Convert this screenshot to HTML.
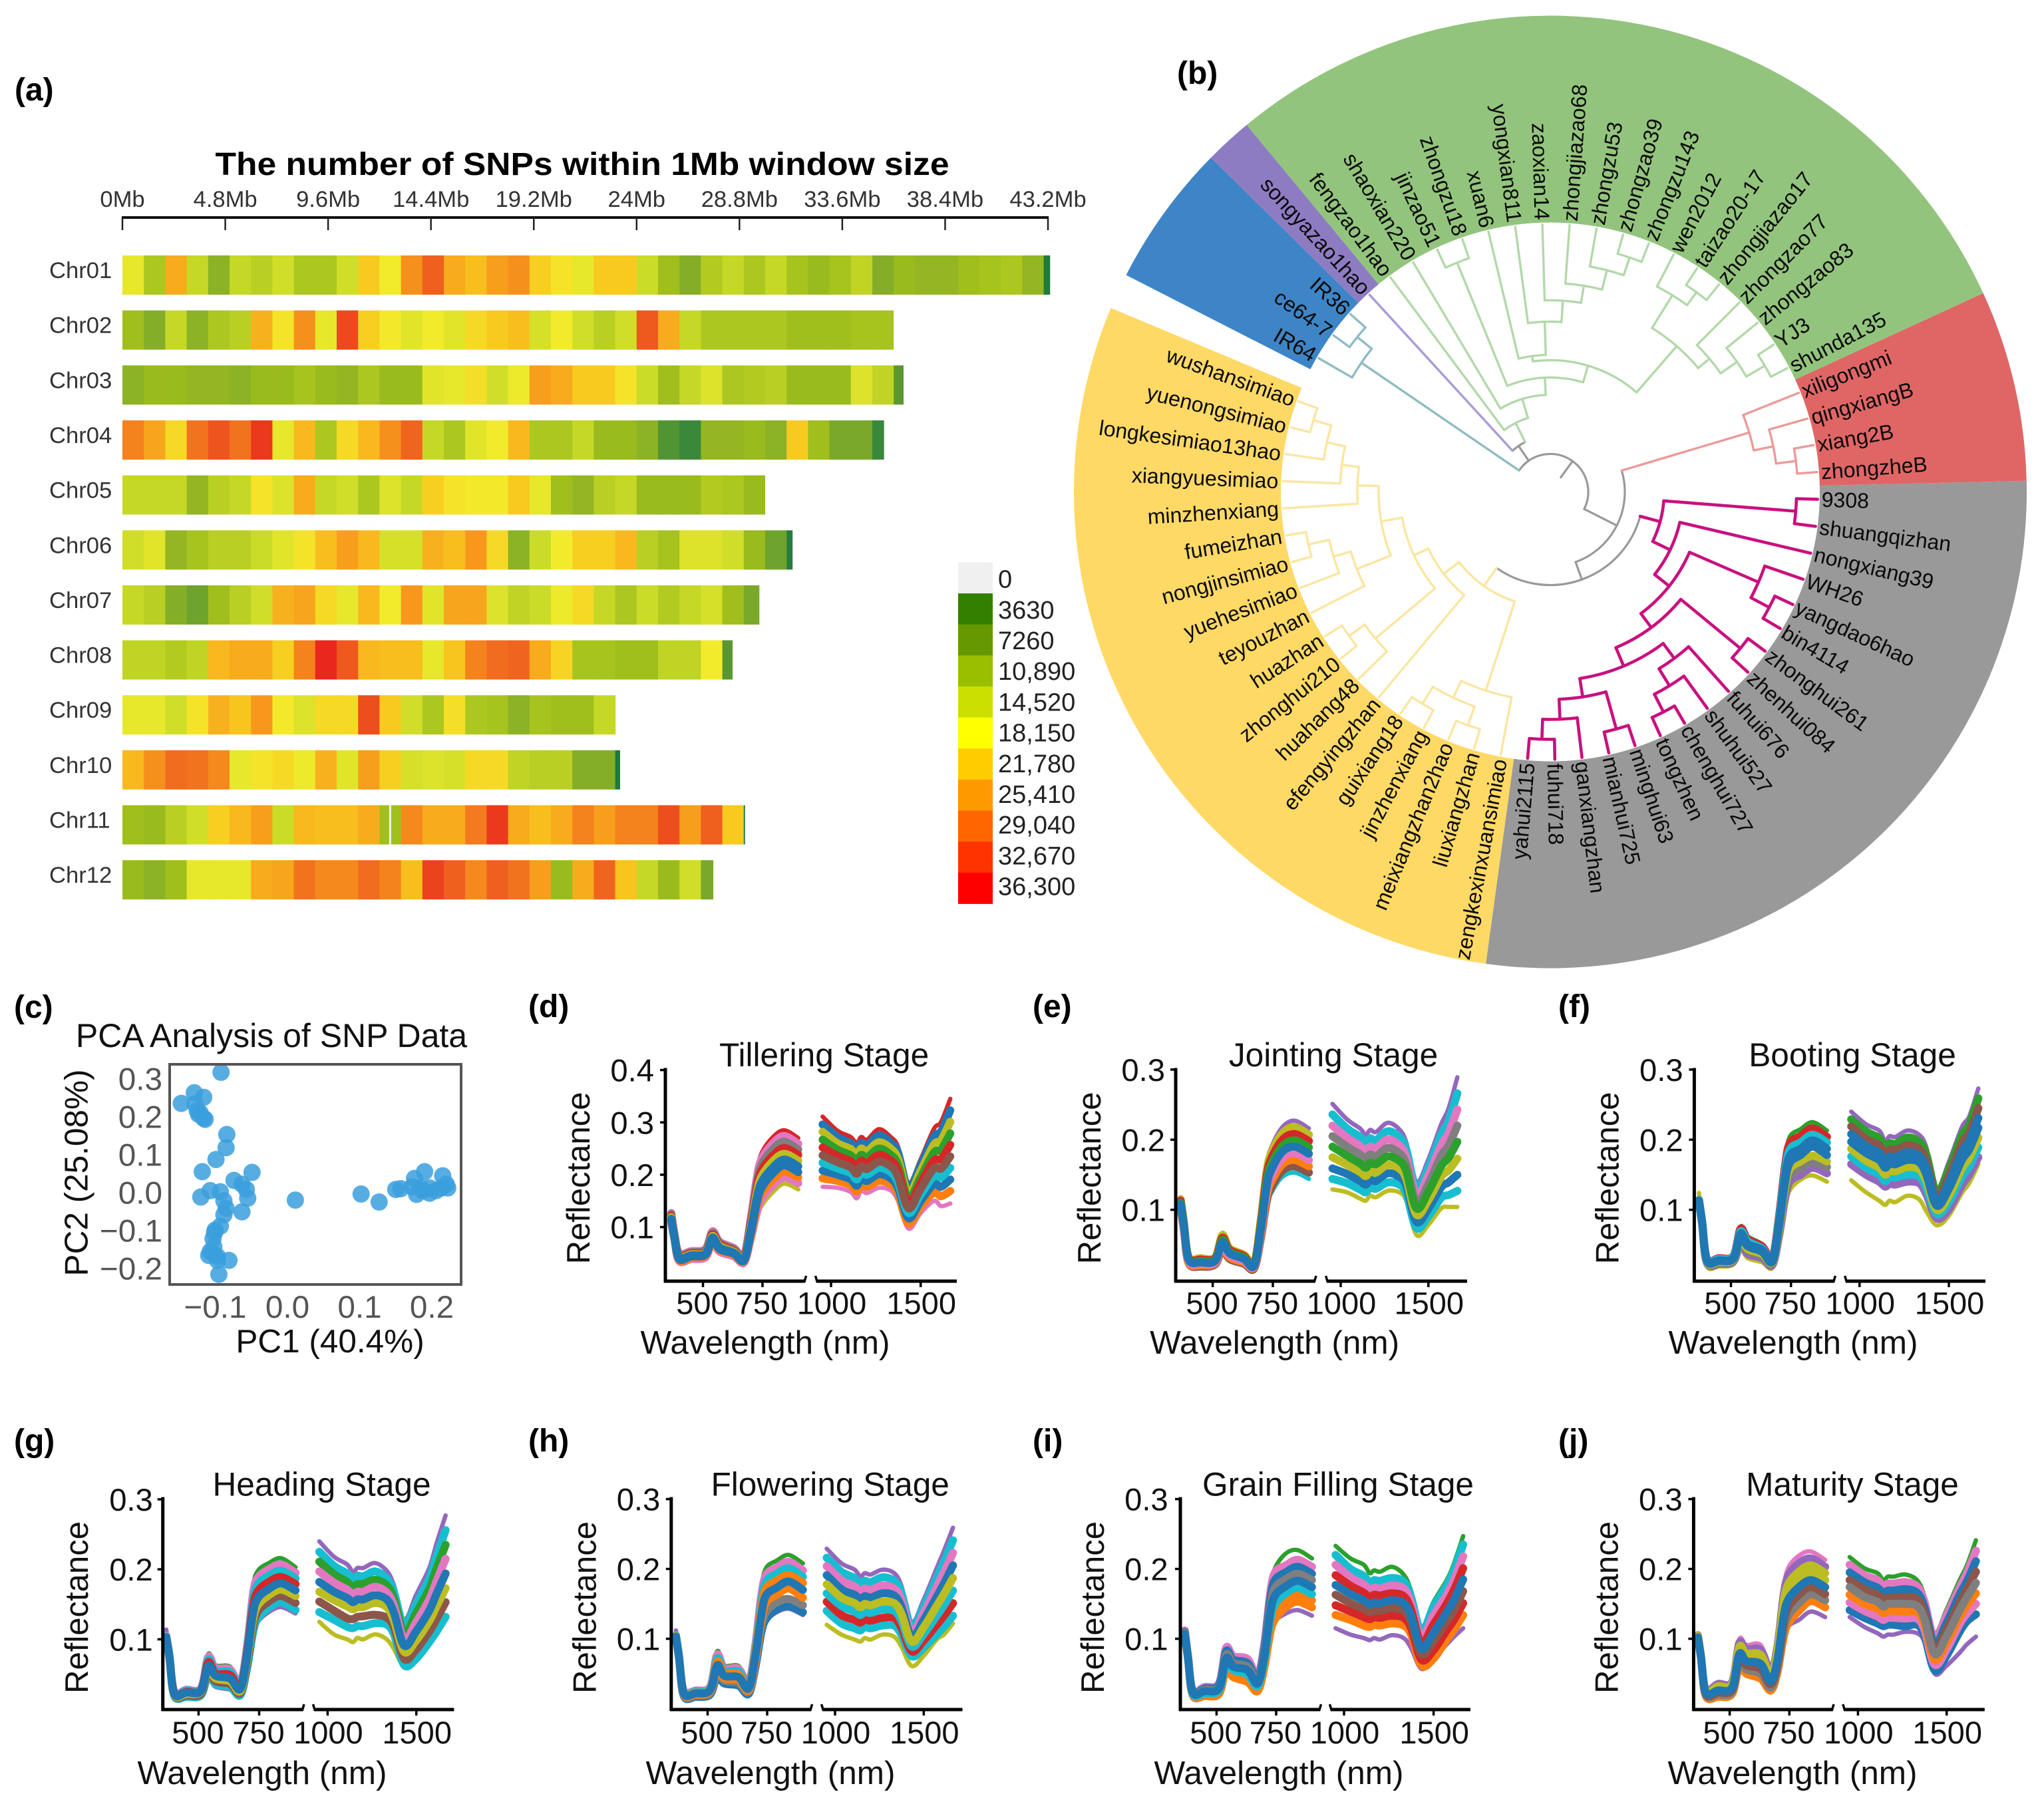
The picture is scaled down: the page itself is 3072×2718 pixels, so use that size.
<!DOCTYPE html>
<html lang="en">
<head>
<meta charset="utf-8">
<title>Rice SNP and reflectance figure</title>
<style>
html,body{margin:0;padding:0;background:#fff;}
svg{display:block;font-family:"Liberation Sans",Arial,sans-serif;}
</style>
</head>
<body>
<svg id="figure" xmlns="http://www.w3.org/2000/svg" width="3072" height="2718" viewBox="0 0 3072 2718">
<rect width="3072" height="2718" fill="#fff"/>
<g id="panel-a"></g>
<g id="panel-b"></g>
<g id="panel-c"></g>
<g id="spectra"></g>
<g id="letters"></g>
</svg>
<script>
/* ---------- panel (a) data ---------- */
const chrNames=['Chr01','Chr02','Chr03','Chr04','Chr05','Chr06','Chr07','Chr08','Chr09','Chr10','Chr11','Chr12'];
const chrLengthsMb=[43.3,36,36.46,35.55,30,31.28,29.73,28.48,23.03,23.23,29.06,27.58];
const chr01Snps=[17,12,24,14,9.5,14,13,15,12,12,15,21.5,18,26,29.5,24,22.5,25,26,21,19,17,21.5,21.5,14.5,11,9,12.5,14,12,14,11.5,10.5,11.5,13.5,9,10.5,10,10,11,11.5,12,10,3];
const chr02Snps=[11,9,14,9.5,12,13,23.5,19,26,17,31.5,21,18.5,16.5,18,16.5,20,21.5,22.5,15.5,18,15,13,15,30,24,14,12,12,12,12,11,11,11,11.5,11.5];
const chr03Snps=[9.5,10.5,10.5,10,10,9.5,10.5,10.5,11.5,10.5,10,12,10.5,10.5,16.5,17,19.5,15,17.5,25,24,21.5,21.5,19,14.5,11,14,16,12,12.5,13,10.5,10.5,10.5,16,13.5,7];
const chr04Snps=[27,24.5,20,28,30.5,28,33,17,23,12,20,23,26,29,14,12,16.5,18,23,12,12,14,10.5,10.5,9.5,6.5,5,10,10,10.5,9.5,21.5,11,8.5,8.5,5];
const chr05Snps=[14,14,14,10,13,14,19,16,24,14,15,12,16,14,21,19,18.5,18.5,21.5,17,11,10,13,14,10.5,10.5,10.5,12.5,12,10.5];
const chr06Snps=[15,16.5,10,11.5,13,13,14.5,16.5,19,22.5,25,23,15.5,15.5,23.5,22.5,25.5,20,9.5,14.5,18,21,21,23,13,11.5,16,16,15,10.5,8,3.5];
const chr07Snps=[14,13,9,8,11,13,15,23.5,24.5,20,17,23,18,25.5,16.5,24.5,24.5,16,13.5,14.5,17.5,20,14,12,14.5,12.5,14,15.5,11,8.5];
const chr08Snps=[13.5,13.5,12.5,13.5,23,24,24,21,27,35,30,23,22.5,22.5,17,22,27,28.5,29,24,20.5,11.5,11.5,11,11,13.5,13.5,18,7];
const chr09Snps=[17,17,15,19,23.5,22,25.5,18.5,16,20,20,31,21.5,15,12,19.5,12,11.5,9.5,11.5,11,11,14];
const chr10Snps=[23,26,28.5,28,26.5,17,19,20,17.5,23.5,16.5,25,21,15.5,16,15.5,20,20,13.5,13,13,9,9,3];
const chr11Snps=[11,10.5,13,15,21,23,25,14.5,23,22.5,22.5,24,11,26.5,24,24,27.5,33,24,22.5,24,27,25,27,27,31,25,29.5,21.5,3];
const chr12Snps=[10.5,9.5,11,17,17,17,24,24.5,28,26.5,26.5,28.5,27,22.5,32,29.5,26.5,29.5,28,25,10.5,24,29,22,14,10.5,15,8.5];
const chrSnpRows=[chr01Snps,chr02Snps,chr03Snps,chr04Snps,chr05Snps,chr06Snps,chr07Snps,chr08Snps,chr09Snps,chr10Snps,chr11Snps,chr12Snps];
const axisTicksMb=[0,4.8,9.6,14.4,19.2,24,28.8,33.6,38.4,43.2];
const axisTickLabels=['0Mb','4.8Mb','9.6Mb','14.4Mb','19.2Mb','24Mb','28.8Mb','33.6Mb','38.4Mb','43.2Mb'];
const legendLabels=['0','3630','7260','10,890','14,520','18,150','21,780','25,410','29,040','32,670','36,300'];
const legendColors=['#f0f0f0','#338000','#669900','#99bf00','#cce000','#ffff00','#ffcc00','#ff9900','#ff6600','#ff3300','#ff0000'];
const heatStops=[3,5,7.26,9,10.89,14.52,18.15,21.78,25.41,29.04,32.67,36.3];
const heatStopColors=['#1f7a3c','#3a883a','#5d9a30','#85ae28','#9fbe1c','#cbdc28','#f4ec2c','#f8c71e','#f7991d','#f0641e','#ea3c1c','#e81c1c'];
const gapChromosomes=[10];
const gapStartsMb=[12.45];

/* ---------- panel (b) data ---------- */
const tipOrder=['IR64','ce64-7','IR36','songyazao1hao','fengzao1hao','shaoxian220','jinzao51','zhongzu18','xuan6','yongxian811','zaoxian14','zhongjiazao68','zhongzu53','zhongzao39','zhongzu143','wen2012','taizao20-17','zhongjiazao17','zhongzao77','zhongzao83','YJ3','shunda135','xiligongmi','qingxiangB','xiang2B','zhongzheB','9308','shuangqizhan','nongxiang39','WH26','yangdao6hao','bin4114','zhonghui261','zhenhui084','fuhui676','shuhui527','chenghui727','tongzhen','minghui63','mianhui725','ganxiangzhan','fuhui718','yahui2115','zengkexinxuansimiao','liuxiangzhan','meixiangzhan2hao','jinzhenxiang','guixiang18','efengyingzhan','huahang48','zhonghui210','huazhan','teyouzhan','yuehesimiao','nongjinsimiao','fumeizhan','minzhenxiang','xiangyuesimiao','longkesimiao13hao','yuenongsimiao','wushansimiao'];
const cladeSizes=[3,1,18,4,17,18];
const cladeFills=['#3d85c6','#8e7cc3','#93c47d','#e06666','#999999','#ffd966'];
const cladeBranchColors=['#8fbcc4','#a99bd6','#b3d8aa','#eb9a9a','#c9107f','#fbe6a0'];
const cladeNames=['blue-clade','purple-clade','green-clade','red-clade','grey-clade','yellow-clade'];
const blueClade=[86,[93,'IR36','ce64-7'],'IR64'];
const greenClade=[29,'fengzao1hao',[36.5,'shaoxian220',[43,[93,'jinzao51','zhongzu18'],[49.5,[51.5,'xuan6',[64,'yongxian811',[72,'zaoxian14',[78.5,'zhongjiazao68',[86,'zhongzu53',[93,'zhongzao39','zhongzu143']]]]]],[72.5,[87,'wen2012',[93,'taizao20-17','zhongjiazao17']],[78,'zhongzao77',[85.5,'zhongzao83',[93.5,'YJ3','shunda135']]]]]]]];
const redClade=[78,'xiligongmi',[85.5,'qingxiangB',[93,'xiang2B','zhongzheB']]];
const yellowClade=[43.25,[50.5,[56.5,[64.5,[72.5,[79,[86,'longkesimiao13hao',[93,'wushansimiao','yuenongsimiao']],'xiangyuesimiao'],'minzhenxiang'],[78.25,[85,[93,'fumeizhan','nongjinsimiao'],'yuehesimiao'],'teyouzhan']],[85.75,[93,'huazhan','zhonghui210'],'huahang48']],'efengyingzhan'],[78.5,'zengkexinxuansimiao',[85.5,[93,'guixiang18','jinzhenxiang'],[93,'meixiangzhan2hao','liuxiangzhan']]]];
const magentaClade=[42.75,[92.5,'9308','shuangqizhan'],[50,'nongxiang39',[57,[85.25,'WH26',[93,'yangdao6hao','bin4114']],[63.5,[92.5,'zhonghui261','zhenhui084'],[71,[78,'fuhui676',[85.5,'shuhui527',[93,'chenghui727','tongzhen']]],[78,[92.5,'minghui63','mianhui725'],[85.5,'ganxiangzhan',[93,'fuhui718','yahui2115']]]]]]]];
const treeRoot=[14.25,[14.25,blueClade,[21,'songyazao1hao',greenClade]],[28,redClade,[35,yellowClade,magentaClade]]];

/* ---------- panel (c) data ---------- */
const pc1Values=[-.092,-.129,-.116,-.147,-.128,-.125,-.123,-.116,-.114,-.121,-.084,-.085,-.099,-.118,-.049,-.074,-.063,-.057,-.107,-.120,-.093,-.055,-.088,-.085,-.063,-.088,-.093,-.100,-.103,-.101,-.107,-.102,-.109,-.097,-.081,-.095,-.097,-.102,.011,.102,.127,.150,.157,.176,.190,.215,.173,.179,.187,.197,.206,.213,.222,.220,.185,.197];
const pc2Values=[.317,.263,.251,.235,.233,.216,.206,.196,.193,.210,.153,.118,.087,.055,.053,.032,.022,.008,.005,-.012,.002,-.015,-.022,-.042,-.051,-.059,-.089,-.099,-.122,-.106,-.156,-.163,-.166,-.169,-.179,-.216,-.179,-.143,-.020,-.004,-.025,.008,.010,.037,.055,.044,.015,-.005,.005,-.002,.005,.012,.012,.022,.012,.012];
const pcaYTicks=[.3,.2,.1,0,-.1,-.2];
const pcaXTicks=[-.1,0,.1,.2];

/* ---------- reflectance data (per-mille reflectance, visible then NIR samples) ---------- */
const visWavelengths=[367,380,400,450,510,540,570,630,672,700,725,745,790,840,900];
const nirWavelengths=[953,1036,1110,1143,1168,1201,1267,1333,1374,1432,1498,1573,1614,1665];
const wavelengthTicksLeft=[500,750];
const wavelengthTicksRight=[1000,1500];
const reflectanceTicksTall=[100,200,300,400];
const reflectanceTicks=[100,200,300];
const seriesPalette=['#1f77b4','#ff7f0e','#2ca02c','#d62728','#9467bd','#8c564b','#e377c2','#7f7f7f','#bcbd22','#17becf'];

const tilleringSeries=[
[130,90,52,56,60,95,75,62,48,120,200,240,270,285,270,311,284,272,260,272,267,287,272,253,184,228,287,301,345],
[127,88,50,54,58,92,72,60,46,115,191,229,258,274,259,296,272,260,248,261,256,275,261,242,174,217,272,283,323],
[125,87,48,52,56,89,70,58,44,109,181,218,247,263,248,282,260,249,237,250,245,262,250,230,165,206,257,266,301],
[122,85,46,50,53,86,67,55,42,104,172,207,235,251,238,267,248,237,225,238,233,250,238,219,155,194,242,248,279],
[119,83,44,48,51,83,64,53,40,98,163,196,224,240,227,252,236,226,214,227,222,238,227,208,146,183,227,230,257],
[116,82,42,46,49,80,61,51,38,93,153,185,212,229,216,237,224,214,202,216,211,225,216,196,136,172,212,212,235],
[113,80,39,44,47,77,58,49,36,87,144,174,201,218,205,223,212,203,191,205,200,213,205,185,127,161,197,195,213],
[111,78,37,41,45,74,56,47,34,82,135,163,189,206,195,208,200,191,179,193,188,201,193,174,117,149,182,177,191],
[108,77,35,39,42,71,53,44,32,76,125,152,178,195,184,193,188,180,168,182,177,188,182,162,107,138,166,159,169],
[105,75,33,37,40,68,50,42,30,70,115,140,165,183,172,177,175,167,155,170,165,175,170,150,97,126,150,140,145]];
const tilleringVisColors=[3,6,7,3,8,0,0,1,6,8];
const tilleringNirColors=[3,0,8,2,3,5,9,0,1,6];

const jointingSeries=[
[118,85,35,33,34,67,48,38,25,90,165,190,218,227,216,251,229,216,207,214,211,224,215,196,140,171,222,244,289],
[115,83,33,31,32,64,45,36,24,86,157,182,209,218,207,236,216,204,195,202,199,212,204,186,130,159,207,226,266],
[113,81,32,29,31,60,43,34,22,81,150,174,200,208,198,220,203,191,184,190,188,200,192,175,121,148,192,209,243],
[110,79,30,27,29,57,40,32,21,77,142,166,191,199,189,205,190,179,172,179,176,188,181,165,111,136,177,191,220],
[108,78,29,25,27,54,38,30,20,72,135,158,183,190,180,190,177,166,160,167,165,176,170,155,102,125,162,174,197],
[105,76,27,23,25,51,35,27,19,68,128,149,174,181,171,175,164,154,148,155,153,164,159,144,93,113,147,156,173],
[102,74,25,21,24,48,32,25,18,64,120,141,165,171,162,159,151,141,136,143,141,152,147,134,83,101,132,139,150],
[100,72,24,19,22,44,30,23,16,59,113,133,156,162,153,144,138,129,125,132,130,139,136,123,74,90,117,121,127],
[97,70,22,17,20,41,27,21,15,55,105,125,147,153,144,129,125,116,113,120,118,127,125,113,64,78,102,104,104]];
const jointingVisColors=[4,8,3,2,0,6,1,5,9];
const jointingNirColors=[4,9,6,7,2,8,0,9,8];

const bootingSeries=[
[115,85,31,32,35,76,62,51,33,95,170,204,215,225,213,240,222,213,198,205,204,213,207,189,131,167,218,233,273],
[114,84,30,31,34,73,58,48,31,90,162,195,205,216,204,229,212,202,188,195,194,203,197,179,125,157,206,221,259],
[114,83,29,30,33,69,55,45,29,85,154,186,196,207,196,219,201,192,179,186,185,192,187,170,118,148,195,210,245],
[113,82,28,28,31,66,51,43,28,81,146,177,187,199,187,208,191,181,169,176,175,182,177,160,112,138,183,198,231],
[113,81,27,27,30,62,48,40,26,76,139,167,178,190,178,197,181,171,160,166,165,171,168,150,106,129,171,186,217],
[113,80,26,26,29,59,44,37,25,71,131,158,169,177,169,187,170,160,150,156,155,161,158,141,100,119,159,174,203],
[112,79,25,24,27,55,41,34,23,67,123,149,159,168,161,176,160,150,141,147,146,150,148,131,94,110,147,162,189],
[112,78,24,23,26,52,37,31,21,62,115,140,150,160,152,165,150,140,133,137,136,140,138,122,88,100,135,150,175],
[124,76,20,19,22,44,31,25,17,55,105,128,143,149,140,142,125,113,107,113,111,120,115,98,78,91,124,138,165]];
const bootingVisColors=[2,3,9,0,0,8,7,4,8];
const bootingNirColors=[4,2,5,0,0,8,9,4,8];

const headingSeries=[
[106,78,26,30,32,79,63,61,40,95,175,198,209,216,203,240,218,207,196,202,202,209,198,177,128,163,202,237,277],
[105,77,25,28,30,75,59,57,37,90,166,188,200,207,195,225,205,194,185,191,190,197,187,167,119,150,187,219,256],
[104,76,24,27,29,71,55,53,34,85,156,179,191,198,187,211,193,182,174,179,179,185,177,158,109,137,172,201,235],
[103,75,23,25,27,67,51,49,31,80,147,169,182,189,179,197,181,171,164,168,168,175,167,148,100,124,157,183,215],
[103,75,22,24,26,62,48,44,29,75,138,159,172,180,170,182,168,159,153,157,157,163,157,138,91,111,141,165,194],
[102,74,21,22,25,58,44,40,26,70,128,149,163,171,162,168,156,147,143,146,146,152,146,127,82,98,126,147,173],
[101,73,20,20,22,54,40,36,23,64,119,140,154,162,152,154,141,130,129,132,133,135,131,117,72,85,111,129,153],
[100,72,19,18,20,50,36,32,20,58,110,130,145,153,142,139,128,118,116,119,119,123,121,107,63,72,96,111,132],
[114,74,18,17,19,44,32,28,18,55,105,125,139,146,137,125,107,100,96,102,100,107,100,86,61,75,100,114,135]];
const headingVisColors=[2,6,9,3,0,8,5,9,4];
const headingNirColors=[4,9,2,6,0,8,5,9,8];

const floweringSeries=[
[106,76,27,27,33,82,62,61,40,95,170,201,212,220,208,229,208,199,189,194,192,199,194,176,124,155,201,226,259],
[105,76,26,26,31,77,58,57,37,90,161,191,202,210,198,216,196,187,178,183,181,188,183,166,117,145,187,210,241],
[105,75,24,25,29,72,54,53,34,84,152,182,193,201,189,204,184,175,167,172,170,176,172,156,110,136,174,195,223],
[104,74,23,23,27,67,51,49,31,79,143,172,183,191,180,191,171,163,156,161,159,165,162,146,103,126,160,179,205],
[103,74,22,22,26,62,47,45,29,74,133,162,173,182,170,178,159,151,145,150,148,153,151,136,96,116,147,164,187],
[102,73,21,20,24,57,43,41,26,68,124,152,163,172,159,165,147,139,134,139,137,142,140,126,89,106,133,148,169],
[102,73,19,19,22,52,40,37,24,63,116,138,152,157,148,153,134,127,123,128,126,130,130,116,82,97,120,133,151],
[101,72,18,17,20,46,36,33,21,58,108,128,142,147,138,140,122,115,112,117,115,119,119,106,75,87,106,117,133],
[112,72,18,17,20,43,34,31,20,55,105,125,138,143,134,120,106,99,96,101,99,106,103,89,61,75,99,106,122]];
const floweringVisColors=[2,6,9,1,0,1,7,0,4];
const floweringNirColors=[4,9,6,0,8,9,3,9,8];

const grainFillingSeries=[
[106,76,26,31,36,80,70,66,45,95,170,201,222,227,215,233,215,206,194,198,196,203,192,169,117,152,184,208,247],
[112,76,26,31,36,87,75,71,47,92,165,195,205,213,203,220,200,190,180,184,183,187,182,160,110,145,176,198,235],
[110,75,25,29,34,82,70,65,43,86,156,184,195,203,193,206,188,178,170,173,172,176,172,151,102,133,163,184,218],
[109,75,24,27,31,77,65,60,40,81,146,173,185,193,184,191,176,166,159,163,162,165,161,142,94,120,150,170,201],
[107,74,23,25,29,72,60,55,36,75,137,162,175,183,174,177,164,155,149,152,151,155,151,133,86,108,138,156,185],
[105,73,21,22,26,66,55,49,32,69,127,150,165,173,164,163,151,143,138,141,140,144,140,124,78,96,125,141,168],
[104,73,20,20,24,61,50,44,29,64,118,139,155,163,155,148,139,131,128,131,130,133,130,115,70,83,112,127,151],
[102,72,19,18,21,56,45,38,25,58,108,128,145,153,145,134,127,119,117,120,119,122,119,106,62,71,99,113,134],
[104,72,18,17,20,54,43,36,24,55,105,125,136,141,133,115,106,101,98,101,99,105,101,87,57,71,92,103,115]];
const grainFillingVisColors=[2,6,0,7,0,9,1,1,4];
const grainFillingNirColors=[2,9,6,3,0,5,3,1,4];

const maturitySeries=[
[106,76,28,38,41,99,91,91,57,95,170,201,219,225,213,217,201,194,184,189,189,192,184,162,108,141,184,205,241],
[105,75,27,35,38,94,85,84,53,89,160,190,208,215,203,206,191,184,175,179,179,181,175,154,100,132,173,194,226],
[104,75,25,32,35,88,79,77,48,83,150,178,196,205,194,195,181,173,165,169,169,171,166,146,93,122,163,182,211],
[103,74,24,29,32,83,73,70,44,77,140,167,185,195,184,184,171,163,156,159,159,160,157,138,85,113,152,171,196],
[102,74,23,26,30,78,68,64,39,70,130,156,174,184,174,174,160,153,146,150,150,150,147,129,78,103,141,159,180],
[101,73,21,23,27,73,62,57,35,64,120,145,163,174,164,163,150,143,137,140,140,139,138,121,70,94,131,148,165],
[100,73,20,20,24,67,56,50,30,58,110,133,151,164,155,152,140,132,127,130,130,129,129,113,63,84,121,136,150],
[98,72,18,17,21,62,50,43,26,52,100,122,140,154,145,141,130,122,118,120,120,118,120,105,55,75,110,125,135],
[100,72,18,17,21,60,48,40,24,50,100,118,127,139,131,131,117,108,103,106,106,110,108,96,50,61,80,92,103]];
const maturityVisColors=[6,4,8,8,0,5,7,1,4];
const maturityNirColors=[2,6,0,5,7,1,6,0,4];

/* ---------- layouts (not data) ---------- */
const ROW1={top:1605.5,bottom:1926,titleY:1603,tickY:1975.6,waveY:2035,refY:1771};
const ROW2={top:2250.6,bottom:2570,titleY:2248.7,tickY:2621,waveY:2681.8,refY:2416.5};
const stagePanels=[
{id:'tillering',title:'Tillering Stage',rows:tilleringSeries,vis:tilleringVisColors,nir:tilleringNirColors,ticks:reflectanceTicksTall,row:ROW1,y01:1844.7,per:78.7,yx:1000,le:1209.6,rs:1227.5,re:1438,x500:1056.5,x750:1146,x1000:1249,x1500:1383.7,tx:1238.6,rx:886,wx:1150,ytr:983},
{id:'jointing',title:'Jointing Stage',rows:jointingSeries,vis:jointingVisColors,nir:jointingNirColors,ticks:reflectanceTicks,row:ROW1,y01:1818.7,per:105.4,yx:1767,le:1976,rs:1994.6,re:2205,x500:1822.6,x750:1913,x1000:2015,x1500:2146.8,tx:2004,rx:1654,wx:1915.6,ytr:1751},
{id:'booting',title:'Booting Stage',rows:bootingSeries,vis:bootingVisColors,nir:bootingNirColors,ticks:reflectanceTicks,row:ROW1,y01:1818.7,per:105.4,yx:2546.4,le:2756.4,rs:2774.7,re:2984,x500:2601.5,x750:2691.7,x1000:2794.8,x1500:2929,tx:2784,rx:2432.7,wx:2695,ytr:2529.6},
{id:'heading',title:'Heading Stage',rows:headingSeries,vis:headingVisColors,nir:headingNirColors,ticks:reflectanceTicks,row:ROW2,y01:2464.4,per:105.2,yx:244.7,le:455,rs:472.5,re:682.4,x500:298.4,x750:389.5,x1000:492.4,x1500:625.7,tx:483.5,rx:131.8,wx:394,ytr:229.8},
{id:'flowering',title:'Flowering Stage',rows:floweringSeries,vis:floweringVisColors,nir:floweringNirColors,ticks:reflectanceTicks,row:ROW2,y01:2463.6,per:105,yx:1008.8,le:1218.6,rs:1236.6,re:1446.5,x500:1063.5,x750:1153,x1000:1255,x1500:1388.3,tx:1247.7,rx:895.4,wx:1158,ytr:992.3},
{id:'grain-filling',title:'Grain Filling Stage',rows:grainFillingSeries,vis:grainFillingVisColors,nir:grainFillingNirColors,ticks:reflectanceTicks,row:ROW2,y01:2463.6,per:105,yx:1774,le:1983.5,rs:2000.5,re:2210,x500:1828.4,x750:1918,x1000:2020,x1500:2154.6,tx:2011,rx:1658.8,wx:1922,ytr:1755.7},
{id:'maturity',title:'Maturity Stage',rows:maturitySeries,vis:maturityVisColors,nir:maturityNirColors,ticks:reflectanceTicks,row:ROW2,y01:2463.6,per:105,yx:2545.4,le:2754,rs:2771.8,re:2982.8,x500:2599.6,x750:2689.3,x1000:2792.4,x1500:2925.7,tx:2784,rx:2431.7,wx:2694,ytr:2528.6}
];
const panelLetters=[['(a)',22,151],['(b)',1769,126],['(c)',21,1530],['(d)',794,1529],['(e)',1552,1529],['(f)',2342,1529],['(g)',21,2182],['(h)',794,2182],['(i)',1552,2182],['(j)',2342,2182]];

/* ---------- helpers ---------- */
const NS='http://www.w3.org/2000/svg';
function mk(tag,attrs,parent){
  const el=document.createElementNS(NS,tag);
  for(const k in attrs){el.setAttribute(k,attrs[k]);}
  parent.appendChild(el);
  return el;
}
function addText(parent,name,str,x,y,size,attrs){
  const el=mk('text',Object.assign({x:x,y:y,'font-size':size,fill:'#111'},attrs||{}),parent);
  el.textContent=str;
  
  
  return el;
}
function addLine(parent,name,x1,y1,x2,y2,stroke,width){
  const el=mk('line',{x1:x1,y1:y1,x2:x2,y2:y2,stroke:stroke,'stroke-width':width},parent);
  
  
  return el;
}
function slug(s){return String(s).toLowerCase().replace(/[^a-z0-9]+/g,'-');}
function smoothPath(pts){
  let d='M'+pts[0][0].toFixed(1)+' '+pts[0][1].toFixed(1);
  for(let i=0;i<pts.length-1;i++){
    const p0=pts[Math.max(0,i-1)],p1=pts[i],p2=pts[i+1],p3=pts[Math.min(pts.length-1,i+2)];
    const c1x=p1[0]+(p2[0]-p0[0])/6,c1y=p1[1]+(p2[1]-p0[1])/6;
    const c2x=p2[0]-(p3[0]-p1[0])/6,c2y=p2[1]-(p3[1]-p1[1])/6;
    d+=' C'+c1x.toFixed(1)+' '+c1y.toFixed(1)+' '+c2x.toFixed(1)+' '+c2y.toFixed(1)+' '+p2[0].toFixed(1)+' '+p2[1].toFixed(1);
  }
  return d;
}

/* ---------- panel letters ---------- */
const lettersG=document.getElementById('letters');
panelLetters.forEach(p=>{
  addText(lettersG,'panel-label-'+p[0].charAt(1),p[0],p[1],p[2],48,{'font-weight':'bold',fill:'#000'});
});

/* ---------- panel (a) ---------- */
const pa=document.getElementById('panel-a');
function xMb(mb){return 184+mb*32.2;}
function rowTop(k){return 384+k*82.65;}
function hexToRgb(h){return [parseInt(h.substr(1,2),16),parseInt(h.substr(3,2),16),parseInt(h.substr(5,2),16)];}
function heatColor(v){
  if(v<=heatStops[0])return heatStopColors[0];
  for(let i=1;i<heatStops.length;i++){
    if(v<=heatStops[i]){
      const t=(v-heatStops[i-1])/(heatStops[i]-heatStops[i-1]);
      const a=hexToRgb(heatStopColors[i-1]),b=hexToRgb(heatStopColors[i]);
      return 'rgb('+a.map((c,j)=>Math.round(c+(b[j]-c)*t)).join(',')+')';
    }
  }
  return heatStopColors[heatStopColors.length-1];
}
addText(pa,'heatmap-title','The number of SNPs within 1Mb window size',875,263,48,{'font-weight':'bold','text-anchor':'middle',textLength:1103,lengthAdjust:'spacingAndGlyphs',fill:'#000'});
addLine(pa,'position-axis-line',xMb(0)-1,327,xMb(43.2)+1,327,'#111',4);
axisTicksMb.forEach((mb,i)=>{
  addLine(pa,'position-axis-tick',xMb(mb),327,xMb(mb),346,'#222',2.5);
  addText(pa,'position-axis-label',axisTickLabels[i],xMb(mb),311,34.6,{'text-anchor':'middle',fill:'#333'});
});
chrNames.forEach((name,k)=>{
  addText(pa,'chromosome-label-'+slug(name),name,74,rowTop(k)+34,34.6,{fill:'#333'});
  const L=chrLengthsMb[k];
  chrSnpRows[k].forEach((v,i)=>{
    const len=Math.min(1,L-i);
    if(len<=0)return;
    const cell=mk('rect',{x:xMb(i),y:rowTop(k),width:len*32.2+(i+1<L?.6:0),height:59,fill:heatColor(v)},pa);
    
    
  });
});
gapChromosomes.forEach((k,i)=>{
  const gap=mk('rect',{x:xMb(gapStartsMb[i]),y:rowTop(k),width:3,height:59,fill:'#f0f0f0'},pa);
  
  
});
legendLabels.forEach((lab,i)=>{
  const sw=mk('rect',{x:1440,y:845.4+i*46.65,width:52,height:47,fill:legendColors[i]},pa);
  
  
  addText(pa,'legend-label',lab,1500,883.6+i*46.2,38,{fill:'#222'});
});

/* ---------- panel (b) ---------- */
const pb=document.getElementById('panel-b');
const CX=2330,CY=739.5,R_OUT=716,R_IN=405,STEP=5.83,A0=150,TIP_H=100.5;
function angleOfIndex(i){return A0-i*STEP;}
function rScale(h){return h*4;}
function polar(a,r){const t=a*Math.PI/180;return [CX+r*Math.cos(t),CY-r*Math.sin(t)];}
function fmt(p){return p[0].toFixed(1)+' '+p[1].toFixed(1);}
const tipGroup={};
let cursor=0;
cladeSizes.forEach((n,g)=>{
  const a1=angleOfIndex(cursor)+STEP/2, a2=angleOfIndex(cursor+n-1)-STEP/2;
  const large=(a1-a2)>180?1:0;
  const d='M'+fmt(polar(a1,R_OUT))+' A'+R_OUT+' '+R_OUT+' 0 '+large+' 1 '+fmt(polar(a2,R_OUT))+' L'+fmt(polar(a2,R_IN))+' A'+R_IN+' '+R_IN+' 0 '+large+' 0 '+fmt(polar(a1,R_IN))+' Z';
  const sec=mk('path',{d:d,fill:cladeFills[g]},pb);
  
  
  for(let i=cursor;i<cursor+n;i++){tipGroup[tipOrder[i]]=g;}
  cursor+=n;
});
function branchStyle(g){return g<0?['#999999',3.2]:(g===4?[cladeBranchColors[g],4.6]:[cladeBranchColors[g],3.4]);}
const branchG=mk('g',{fill:'none','stroke-linecap':'round'},pb);


function drawBranch(d,g,name){
  const st=branchStyle(g);
  const p=mk('path',{d:d,stroke:st[0],'stroke-width':st[1]},branchG);
  
  
}
function drawNode(n){
  if(typeof n==='string'){
    return {a:angleOfIndex(tipOrder.indexOf(n)),h:TIP_H,g:tipGroup[n]};
  }
  const kids=n.slice(1).map(drawNode);
  const angles=kids.map(k=>k.a);
  const hi=Math.max.apply(null,angles),lo=Math.min.apply(null,angles);
  const g=kids.every(k=>k.g===kids[0].g)?kids[0].g:-1;
  const r=rScale(n[0]);
  drawBranch('M'+fmt(polar(hi,r))+' A'+r+' '+r+' 0 '+((hi-lo)>180?1:0)+' 1 '+fmt(polar(lo,r)),g,'tree-node-arc');
  kids.forEach(k=>{
    drawBranch('M'+fmt(polar(k.a,r))+' L'+fmt(polar(k.a,rScale(k.h))),k.g,'tree-branch');
  });
  return {a:(hi+lo)/2,h:n[0],g:g};
}
const rootInfo=drawNode(treeRoot);
drawBranch('M'+fmt(polar(rootInfo.a,rScale(rootInfo.h)))+' L'+fmt(polar(rootInfo.a,27)),-1,'tree-root-stem');
tipOrder.forEach((name,i)=>{
  const a=angleOfIndex(i);
  const right=Math.cos(a*Math.PI/180)>=0;
  const p=polar(a,right?408:409);
  const rot=right?-a:180-a;
  addText(pb,'tip-label-'+slug(name),name,p[0].toFixed(1),p[1].toFixed(1),32,{'text-anchor':right?'start':'end',dy:'0.35em',transform:'rotate('+rot.toFixed(2)+' '+p[0].toFixed(1)+' '+p[1].toFixed(1)+')',fill:'#0a0a0a'});
});

/* ---------- panel (c) ---------- */
const pc=document.getElementById('panel-c');
function pcaX(v){return 432+v*1085;}
function pcaY(v){return 1792.7-v*570;}
addText(pc,'pca-title','PCA Analysis of SNP Data',408,1574,50,{'text-anchor':'middle'});
pc1Values.forEach((v,i)=>{
  const c=mk('circle',{cx:pcaX(v).toFixed(1),cy:pcaY(pc2Values[i]).toFixed(1),r:13,fill:'#3a9fdd','fill-opacity':.85},pc);
  
  
});
const frame=mk('rect',{x:255,y:1600,width:438,height:331,fill:'none',stroke:'#555','stroke-width':4},pc);


function signed(v){return (v<0?'\u2212':'')+Math.abs(v).toFixed(1);}
pcaYTicks.forEach(v=>{
  addText(pc,'pca-y-tick-label',signed(v),244,pcaY(v)+17,47.7,{'text-anchor':'end',fill:'#555'});
});
pcaXTicks.forEach(v=>{
  addText(pc,'pca-x-tick-label',signed(v),pcaX(v),1981,47.7,{'text-anchor':'middle',fill:'#555'});
});
addText(pc,'pca-x-axis-title','PC1 (40.4%)',496,2033,49.5,{'text-anchor':'middle'});
addText(pc,'pca-y-axis-title','PC2 (25.08%)',131.6,1763,49.5,{'text-anchor':'middle',transform:'rotate(-90 131.6 1763)'});

/* ---------- reflectance panels ---------- */
const spectraG=document.getElementById('spectra');
function drawOrder(n){
  const out=[];let lo=0,hi=n-1;
  while(lo<hi){out.push(lo);out.push(hi);lo++;hi--;}
  if(lo===hi)out.push(lo);
  return out;
}
stagePanels.forEach(P=>{
  const g=mk('g',{},spectraG);
  
  
  const row=P.row;
  const yV=v=>P.y01-(v-100)/100*P.per;
  const xL=w=>P.x500+(w-500)*(P.x750-P.x500)/250;
  const xR=w=>P.x1000+(w-1000)*(P.x1500-P.x1000)/500;
  addText(g,P.id+'-title',P.title,P.tx,row.titleY,49.6,{'text-anchor':'middle'});
  addText(g,P.id+'-y-axis-title','Reflectance',P.rx,row.refY,49,{'text-anchor':'middle',transform:'rotate(-90 '+P.rx+' '+row.refY+')'});
  addText(g,P.id+'-x-axis-title','Wavelength (nm)',P.wx,row.waveY,49.5,{'text-anchor':'middle'});
  const seriesG=mk('g',{fill:'none','stroke-linejoin':'round','stroke-linecap':'round'},g);
  
  
  const count=P.rows.length;
  drawOrder(count).forEach(s=>{
    const vals=P.rows[s];
    const width=(s===0||s===count-1)?6.5:12;
    const visPts=visWavelengths.map((w,i)=>[xL(w),yV(vals[i])]);
    const nirPts=nirWavelengths.map((w,i)=>[xR(w),yV(vals[i+visWavelengths.length])]);
    const a=mk('path',{d:smoothPath(visPts),stroke:seriesPalette[P.vis[s]],'stroke-width':width},seriesG);
    
    
    const b=mk('path',{d:smoothPath(nirPts),stroke:seriesPalette[P.nir[s]],'stroke-width':width},seriesG);
    
    
  });
  addLine(g,'y-axis-line',P.yx,row.top,P.yx,row.bottom+2,'#000',5);
  addLine(g,'x-axis-left-segment',P.yx-2,row.bottom,P.le,row.bottom,'#000',5);
  addLine(g,'x-axis-right-segment',P.rs,row.bottom,P.re,row.bottom,'#000',5);
  addLine(g,'axis-break-mark',P.le-1,row.bottom+2,P.le+2,row.bottom-8,'#000',3.5);
  addLine(g,'axis-break-mark',P.rs-2,row.bottom-8,P.rs+1,row.bottom+2,'#000',3.5);
  P.ticks.forEach(v=>{
    addLine(g,'y-axis-tick',P.yx-8,yV(v),P.yx,yV(v),'#000',3.5);
    addText(g,'y-tick-label',(v/1000).toFixed(1),P.ytr,yV(v)+17,47.2,{'text-anchor':'end'});
  });
  wavelengthTicksLeft.forEach(w=>{
    addLine(g,'x-axis-tick',xL(w),row.bottom,xL(w),row.bottom+9,'#000',3.5);
    addText(g,'x-tick-label',String(w),xL(w)-1,row.tickY,47,{'text-anchor':'middle'});
  });
  wavelengthTicksRight.forEach(w=>{
    addLine(g,'x-axis-tick',xR(w),row.bottom,xR(w),row.bottom+9,'#000',3.5);
    addText(g,'x-tick-label',String(w),xR(w)+1,row.tickY,47,{'text-anchor':'middle'});
  });
});
</script>
</body>
</html>
